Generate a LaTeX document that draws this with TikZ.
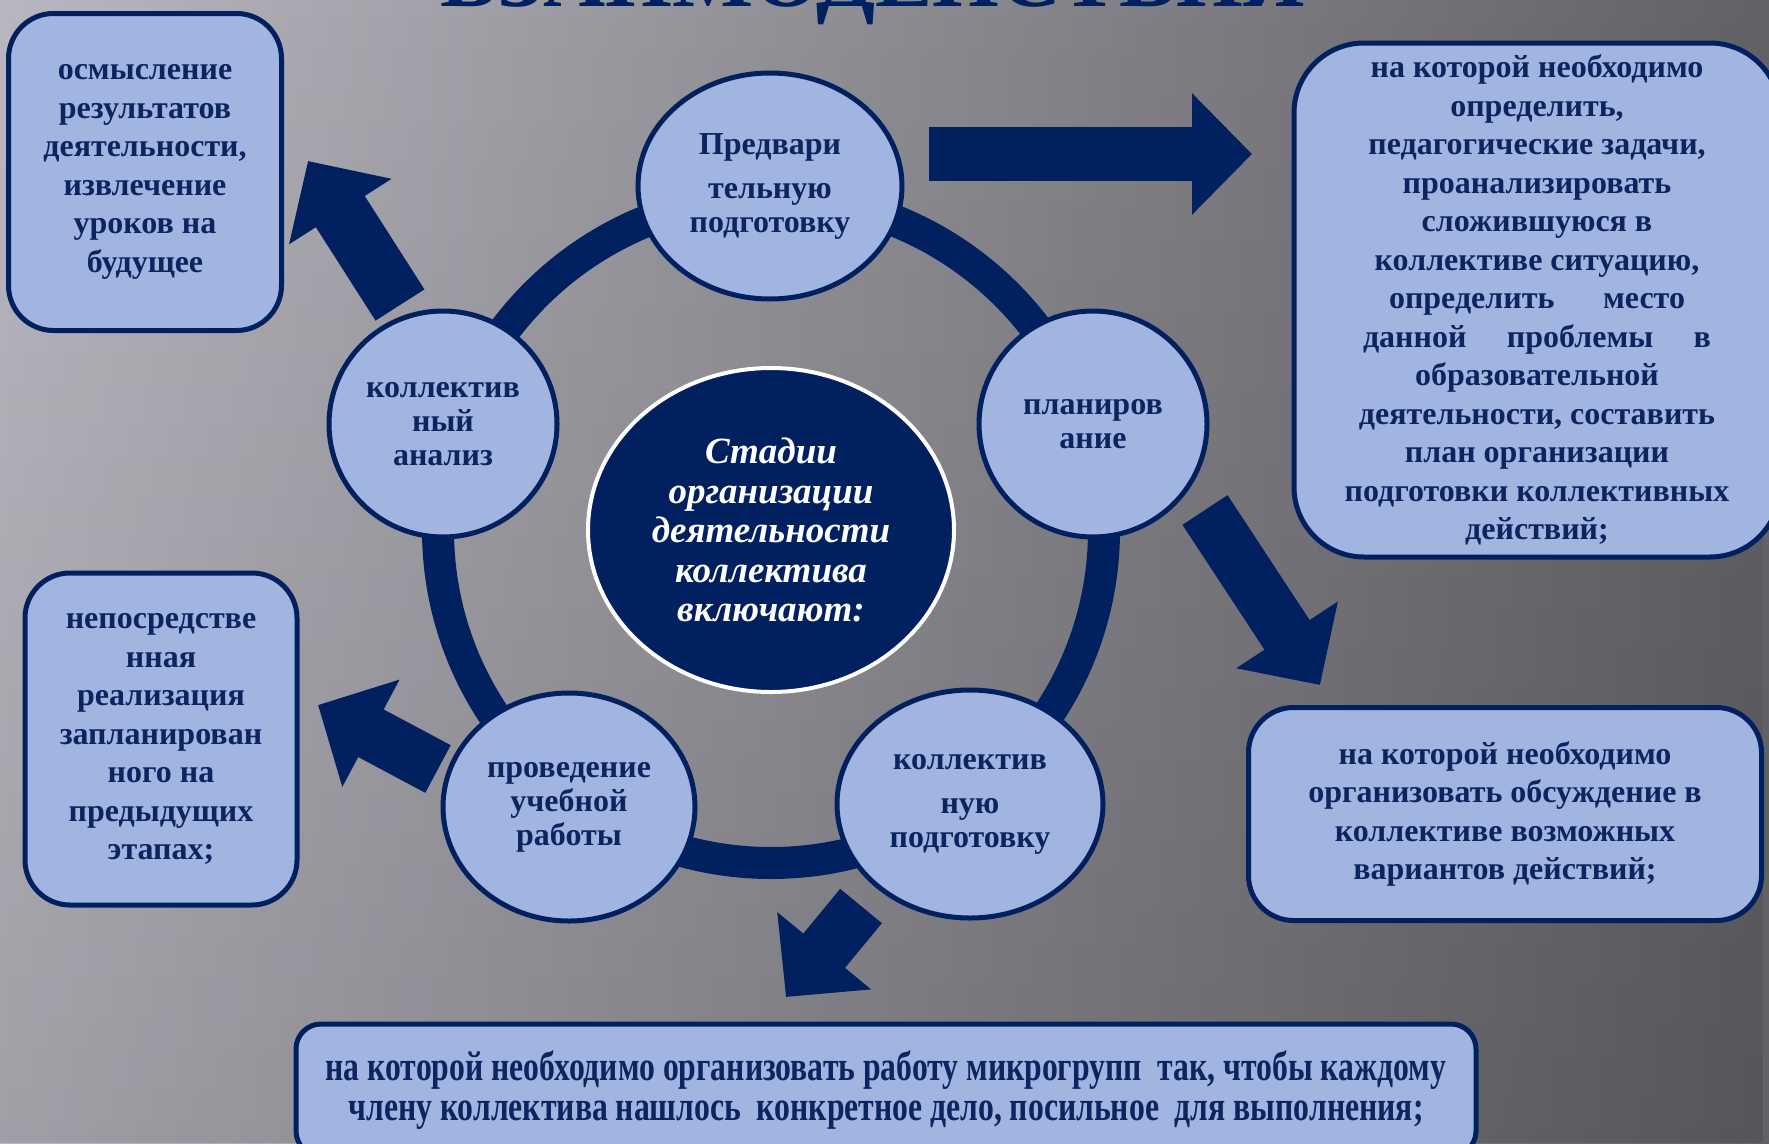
\documentclass[tikz,border=0pt]{standalone}
\usepackage{fontspec}
\setmainfont{Liberation Serif}
\usetikzlibrary{shapes.geometric,arrows.meta,positioning,fadings}

\definecolor{navy}{RGB}{0,32,96}
\definecolor{pale}{RGB}{162,181,225}
\definecolor{inkblue}{RGB}{12,36,96}
\definecolor{bgleft}{RGB}{184,182,190}
\definecolor{bgmid}{RGB}{136,134,141}
\definecolor{bgright}{RGB}{98,97,102}

\tikzset{
  stage/.style={ellipse, draw=navy, line width=5, fill=pale, text=inkblue, inner sep=0pt,
    align=center, font=\fontsize{32}{34}\selectfont\bfseries},
  note/.style={rectangle, rounded corners=45, draw=navy, line width=5, fill=pale, text=inkblue,
    inner sep=0pt, align=center, font=\fontsize{32}{38.5}\selectfont\bfseries},
  bigarrow/.style={draw=navy, line width=54, line cap=butt, -{Triangle[length=60pt,width=118pt]}},
}

\begin{document}
\begin{tikzpicture}[x=1pt, y=-1pt]

    \useasboundingbox (0,0) rectangle (1769,1143);
    \shade[left color=bgleft, middle color=bgmid, right color=bgright] (0,0) rectangle (1769,1143);
    \fill[black, opacity=0.12, path fading=north] (0,0) rectangle (1769,1143);

    \node[anchor=base, text=navy, font=\fontsize{86}{86}\selectfont\bfseries] (title) at (873,6) {ВЗАИМОДЕЙСТВИЯ};

    % ring and centre
    \node[circle, draw=navy, line width=32, minimum size=666, inner sep=0pt] (ring) at (771,530) {};
    \node[ellipse, fill=navy, draw=white, line width=4, minimum width=366, minimum height=324,
          inner sep=0pt, text=white, align=center, font=\fontsize{37}{39.5}\selectfont\bfseries\itshape]
          (core) at (771,530) {Стадии\\организации\\деятельности\\коллектива\\включают:};

    % stages
    \node[stage, minimum width=264, minimum height=226] (prep)     at (770,186)  {Предвари\\[10pt]тельную\\подготовку};
    \node[stage, minimum width=228, minimum height=226] (plan)     at (1093,424) {планиров\\ание};
    \node[stage, minimum width=266, minimum height=228] (team)     at (970,804)  {коллектив\\[10pt]ную\\подготовку};
    \node[stage, minimum width=252, minimum height=228] (lesson)   at (569,807)  {проведение\\учебной\\работы};
    \node[stage, minimum width=228, minimum height=226] (analysis) at (443,424)  {коллектив\\ный\\анализ};

    % notes
    \node[note, minimum width=486, minimum height=514, rounded corners=70] (planNote) at (1537,300)
        {на которой необходимо\\определить,\\педагогические задачи,\\проанализировать\\сложившуюся в\\
         коллективе ситуацию,\\\makebox[296pt]{определить\hfill место}\\
         \makebox[348pt]{данной\hfill проблемы\hfill в}\\образовательной\\деятельности, составить\\
         план организации\\подготовки коллективных\\действий;};
    \node[note, minimum width=513, minimum height=213] (teamNote) at (1505,814)
        {на которой необходимо\\организовать обсуждение в\\коллективе возможных\\вариантов действий;};
    \node[note, minimum width=1180, minimum height=132, rounded corners=25] (lessonNote) at (886,1090)
        {\scalebox{0.99}[1.3]{на которой необходимо организовать работу микрогрупп\ \ так, чтобы каждому}\\[1pt]
         \scalebox{0.99}[1.3]{члену коллектива нашлось\ \ конкретное дело, посильное\ \ для выполнения;}};
    \node[note, minimum width=272, minimum height=332] (doNote) at (161,739)
        {непосредстве\\нная\\реализация\\запланирован\\ного на\\предыдущих\\этапах;};
    \node[note, minimum width=273, minimum height=317] (lookNote) at (145,172)
        {осмысление\\результатов\\деятельности,\\извлечение\\уроков на\\будущее};

    % arrows
    \coordinate (a1) at (929,154);  \coordinate (b1) at (1252,154);
    \coordinate (a2) at (1205,510); \coordinate (b2) at (1320,685);
    \coordinate (a3) at (861,906);  \coordinate (b3) at (786,997);
    \coordinate (a4) at (438,769);  \coordinate (b4) at (318,705);
    \coordinate (a5) at (400,305);  \coordinate (b5) at (308,161);

    \draw[bigarrow] (a1) -- (b1);
    \draw[bigarrow] (a2) -- (b2);
    \draw[bigarrow] (a3) -- (b3);
    \draw[bigarrow] (a4) -- (b4);
    \draw[bigarrow, line width=58] (a5) -- (b5);

\end{tikzpicture}
\end{document}
